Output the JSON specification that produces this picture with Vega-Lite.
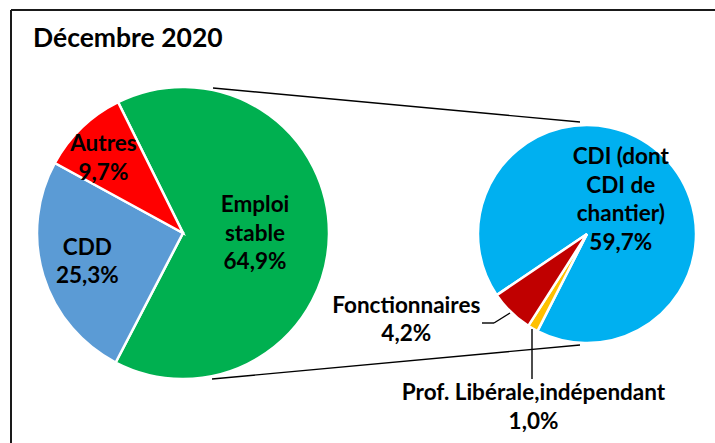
{
  "$schema": "https://vega.github.io/schema/vega-lite/v6.json",
  "width": 715,
  "height": 443,
  "autosize": {"type": "none"},
  "padding": 0,
  "background": "white",
  "config": {
    "view": {"stroke": null},
    "axis": {"disable": true},
    "text": {"font": "Lato", "fontWeight": "bold", "fontSize": 22.5, "lineHeight": 28.5, "color": "black", "align": "center", "baseline": "middle"}
  },
  "datasets": {
    "repartition": [
      {"camembert": "principal", "categorie": "Emploi stable", "libelle": "Emploi\nstable", "part": 64.9, "rang": 1},
      {"camembert": "principal", "categorie": "CDD", "libelle": "CDD", "part": 25.3, "rang": 2},
      {"camembert": "principal", "categorie": "Autres", "libelle": "Autres", "part": 9.7, "rang": 3},
      {"camembert": "secondaire", "categorie": "CDI (dont CDI de chantier)", "libelle": "CDI (dont\nCDI de\nchantier)", "part": 59.7, "rang": 1},
      {"camembert": "secondaire", "categorie": "Prof. Libérale,indépendant", "libelle": "Prof. Libérale,indépendant", "part": 1.0, "rang": 2},
      {"camembert": "secondaire", "categorie": "Fonctionnaires", "libelle": "Fonctionnaires", "part": 4.2, "rang": 3}
    ],
    "traits": [
      {"trait": "cadre", "x": 11, "y": 10, "x2": 715, "y2": 10},
      {"trait": "cadre", "x": 11, "y": 10, "x2": 11, "y2": 443},
      {"trait": "connecteur", "x": 213, "y": 88, "x2": 580, "y2": 122},
      {"trait": "connecteur", "x": 212, "y": 379, "x2": 580, "y2": 345},
      {"trait": "repere", "x": 482, "y": 323, "x2": 494, "y2": 323},
      {"trait": "repere", "x": 494, "y": 323, "x2": 510, "y2": 313},
      {"trait": "repere", "x": 532, "y": 329, "x2": 532, "y2": 379}
    ]
  },
  "resolve": {"scale": {"theta": "independent"}},
  "layer": [
    {
      "data": {"name": "traits"},
      "transform": [{"filter": "datum.trait === 'cadre'"}],
      "mark": {"type": "rule", "color": "#1a1a1a", "strokeWidth": 2},
      "encoding": {
        "x": {"field": "x", "type": "quantitative", "scale": {"domain": [0, 715], "nice": false, "zero": false}, "axis": null},
        "y": {"field": "y", "type": "quantitative", "scale": {"domain": [0, 443], "reverse": true, "nice": false, "zero": false}, "axis": null},
        "x2": {"field": "x2"},
        "y2": {"field": "y2"}
      }
    },
    {
      "data": {"values": [{"titre": "Décembre 2020"}]},
      "mark": {"type": "text", "align": "left", "baseline": "alphabetic", "fontSize": 26.5},
      "encoding": {
        "x": {"datum": 33, "type": "quantitative", "scale": {"domain": [0, 715], "nice": false, "zero": false}, "axis": null},
        "y": {"datum": 47, "type": "quantitative", "scale": {"domain": [0, 443], "reverse": true, "nice": false, "zero": false}, "axis": null},
        "text": {"field": "titre", "type": "nominal"}
      }
    },
    {
      "data": {"name": "repartition"},
      "transform": [
        {"filter": "datum.camembert === 'principal'"},
        {"calculate": "datum.libelle + '\\n' + replace(format(datum.part, '.1f'), '.', ',') + '%'", "as": "etiquette"}
      ],
      "encoding": {
        "x": {"datum": 183, "type": "quantitative", "scale": {"domain": [0, 715], "nice": false, "zero": false}, "axis": null},
        "y": {"datum": 233, "type": "quantitative", "scale": {"domain": [0, 443], "reverse": true, "nice": false, "zero": false}, "axis": null},
        "theta": {"field": "part", "type": "quantitative", "stack": true, "scale": {"range": [-0.46077, 5.82242]}},
        "order": {"field": "rang", "type": "quantitative"},
        "detail": {"field": "categorie", "type": "nominal"}
      },
      "layer": [
        {
          "mark": {"type": "arc", "outerRadius": 146, "stroke": "white", "strokeWidth": 2.5},
          "encoding": {
            "color": {"field": "categorie", "type": "nominal", "legend": null,
              "scale": {"domain": ["Emploi stable", "CDD", "Autres", "CDI (dont CDI de chantier)", "Prof. Libérale,indépendant", "Fonctionnaires"],
                        "range": ["#00B050", "#5B9BD5", "#FF0000", "#00B0F0", "#FFC000", "#C00000"]}}
          }
        },
        {
          "mark": {"type": "text", "radius": 72, "dy": -28.5, "lineBreak": "\n"},
          "encoding": {"text": {"condition": {"test": "datum.rang === 1", "field": "etiquette", "type": "nominal"}, "value": ""}}
        },
        {
          "mark": {"type": "text", "radius": 100, "dy": -14.25, "lineBreak": "\n"},
          "encoding": {"text": {"condition": {"test": "datum.rang === 2", "field": "etiquette", "type": "nominal"}, "value": ""}}
        },
        {
          "mark": {"type": "text", "radius": 109, "dx": -4, "dy": -10.25, "lineBreak": "\n"},
          "encoding": {"text": {"condition": {"test": "datum.rang === 3", "field": "etiquette", "type": "nominal"}, "value": ""}}
        }
      ]
    },
    {
      "data": {"name": "repartition"},
      "transform": [
        {"filter": "datum.camembert === 'secondaire'"},
        {"calculate": "datum.libelle + '\\n' + replace(format(datum.part, '.1f'), '.', ',') + '%'", "as": "etiquette"}
      ],
      "encoding": {
        "x": {"datum": 587, "type": "quantitative", "scale": {"domain": [0, 715], "nice": false, "zero": false}, "axis": null},
        "y": {"datum": 234, "type": "quantitative", "scale": {"domain": [0, 443], "reverse": true, "nice": false, "zero": false}, "axis": null},
        "theta": {"field": "part", "type": "quantitative", "stack": true, "scale": {"range": [-2.16595, 4.11724]}},
        "order": {"field": "rang", "type": "quantitative"},
        "detail": {"field": "categorie", "type": "nominal"}
      },
      "layer": [
        {
          "mark": {"type": "arc", "outerRadius": 109, "stroke": "white", "strokeWidth": 2.5},
          "encoding": {
            "color": {"field": "categorie", "type": "nominal", "legend": null,
              "scale": {"domain": ["Emploi stable", "CDD", "Autres", "CDI (dont CDI de chantier)", "Prof. Libérale,indépendant", "Fonctionnaires"],
                        "range": ["#00B050", "#5B9BD5", "#FF0000", "#00B0F0", "#FFC000", "#C00000"]}}
          }
        },
        {
          "mark": {"type": "text", "radius": 48, "dx": 2, "dy": -40.75, "lineBreak": "\n"},
          "encoding": {"text": {"condition": {"test": "datum.rang === 1", "field": "etiquette", "type": "nominal"}, "value": ""}}
        },
        {
          "mark": {"type": "text", "radius": 200, "dx": 46, "dy": -14.25, "lineBreak": "\n"},
          "encoding": {"text": {"condition": {"test": "datum.rang === 2", "field": "etiquette", "type": "nominal"}, "value": ""}}
        },
        {
          "mark": {"type": "text", "radius": 120, "dx": -97, "dy": -14.25, "lineBreak": "\n"},
          "encoding": {"text": {"condition": {"test": "datum.rang === 3", "field": "etiquette", "type": "nominal"}, "value": ""}}
        }
      ]
    },
    {
      "data": {"name": "traits"},
      "transform": [{"filter": "datum.trait !== 'cadre'"}],
      "mark": {"type": "rule", "color": "black", "strokeWidth": 1.4},
      "encoding": {
        "x": {"field": "x", "type": "quantitative", "scale": {"domain": [0, 715], "nice": false, "zero": false}, "axis": null},
        "y": {"field": "y", "type": "quantitative", "scale": {"domain": [0, 443], "reverse": true, "nice": false, "zero": false}, "axis": null},
        "x2": {"field": "x2"},
        "y2": {"field": "y2"}
      }
    }
  ]
}
